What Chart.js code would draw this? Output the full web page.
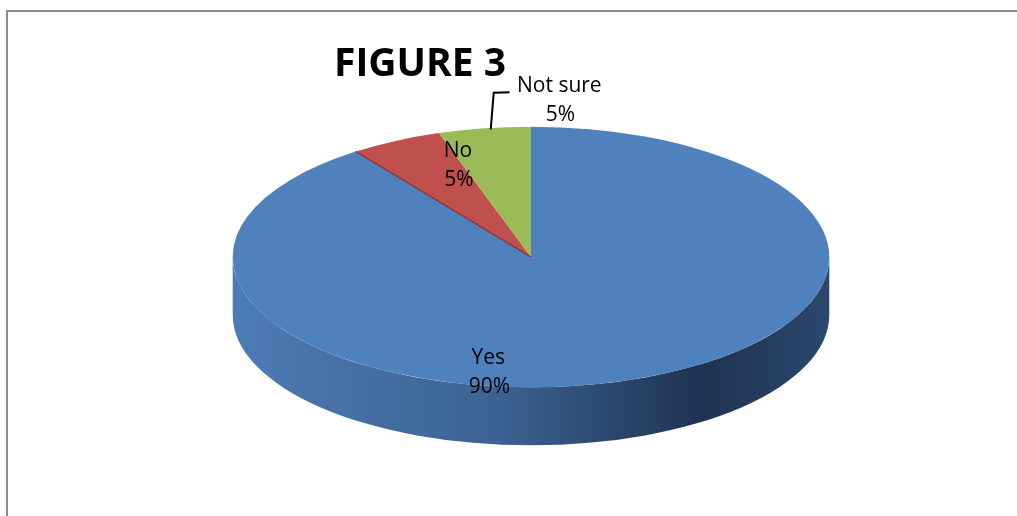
<!DOCTYPE html>
<html lang="en">
  <head>
    <meta charset="UTF-8" />
    <script src="https://cdn.jsdelivr.net/npm/chart.js"></script>
    <title>Figure 3</title>
    <style>
      html, body { margin: 0; padding: 0; background: #fff; }
      .frame {
        position: absolute; left: 0; top: 0; width: 1017px; height: 516px;
      }
      .border {
        position: absolute; left: 6px; top: 10px; right: 0; bottom: 0;
        border-top: 2px solid #8c8c8c; border-left: 2px solid #8c8c8c;
      }
      canvas { position: absolute; left: 0; top: 0; }
    </style>
  </head>
  <body>
    <div class="frame">
      <div class="border"></div>
      <canvas id="myChart" width="1017" height="516"></canvas>
    </div>

    <script>
      // data
      const categorias = ["Yes", "No", "Not sure"];
      const valores = [90, 5, 5];
      const rotulos = ["90%", "5%", "5%"];
      const cores = ["#4f81bd", "#c0504d", "#9bbb59"];

      // how the flat pie is squashed into a tilted 3D disc
      const ESTICA_X = 1.9;
      const ESTICA_Y = 0.83;
      const PROFUNDIDADE = 58;

      function transformar(ctx, arc) {
        ctx.translate(arc.x, arc.y);
        ctx.scale(ESTICA_X, ESTICA_Y);
        ctx.translate(-arc.x, -arc.y);
      }

      const pizza3d = {
        id: "pizza3d",
        beforeDatasetsDraw(chart) {
          const ctx = chart.ctx;
          const arcs = chart.getDatasetMeta(0).data;
          const a0 = arcs[0];
          const cx = a0.x, cy = a0.y, R = a0.outerRadius;
          const D = PROFUNDIDADE / ESTICA_Y;

          ctx.save();
          transformar(ctx, a0);

          // side walls (only the front half shows)
          arcs.forEach(function (arc, i) {
            for (let k = -1; k <= 1; k++) {
              const lo = Math.max(arc.startAngle + 2 * Math.PI * k, 0);
              const hi = Math.min(arc.endAngle + 2 * Math.PI * k, Math.PI);
              if (hi <= lo) continue;
              const g = ctx.createLinearGradient(cx - R, 0, cx + R, 0);
              if (i === 0) {
                g.addColorStop(0, "#4d7bb4");
                g.addColorStop(0.45, "#3b6292");
                g.addColorStop(0.78, "#1f3352");
                g.addColorStop(1, "#2a476d");
              } else {
                g.addColorStop(0, cores[i]);
                g.addColorStop(1, "#333");
              }
              ctx.beginPath();
              ctx.moveTo(cx + R * Math.cos(lo), cy + R * Math.sin(lo));
              ctx.arc(cx, cy, R, lo, hi);
              ctx.lineTo(cx + R * Math.cos(hi), cy + D + R * Math.sin(hi));
              ctx.arc(cx, cy + D, R, hi, lo, true);
              ctx.closePath();
              ctx.fillStyle = g;
              ctx.fill();
            }
          });
          // top face is drawn by chart.js in the same squashed space
        },
        afterDatasetsDraw(chart) {
          const ctx = chart.ctx;
          const arcs = chart.getDatasetMeta(0).data;
          // dark edge between No and Yes
          const no = arcs[1];
          ctx.beginPath();
          ctx.moveTo(no.x, no.y);
          ctx.lineTo(no.x + no.outerRadius * Math.cos(no.startAngle), no.y + no.outerRadius * Math.sin(no.startAngle));
          ctx.lineWidth = 1.2;
          ctx.strokeStyle = "#8a3634";
          ctx.stroke();
          ctx.restore();
        },
        afterDraw(chart) {
          const ctx = chart.ctx;
          const a0 = chart.getDatasetMeta(0).data[0];
          const rx = a0.outerRadius * ESTICA_X;
          const ry = a0.outerRadius * ESTICA_Y;
          const px = (u) => a0.x + u * rx;
          const py = (v) => a0.y + v * ry;

          ctx.save();
          ctx.fillStyle = "#000";
          ctx.textAlign = "center";
          ctx.textBaseline = "middle";

          // title
          ctx.font = "bold 39px 'Open Sans'";
          ctx.fillText("FIGURE 3", 420, 65);

          // labels, placed relative to the disc
          const lugar = [[-0.143, 0.775], [-0.245, -0.81], [0.095, -1.31]];
          ctx.font = "21px 'Open Sans'";
          categorias.forEach(function (c, i) {
            const x = px(lugar[i][0]), y = py(lugar[i][1]);
            ctx.fillText(c, x, y);
            ctx.fillText(rotulos[i], x + 1, y + 29);
          });

          // leader line for Not sure
          ctx.beginPath();
          ctx.moveTo(px(-0.135), py(-0.98));
          ctx.lineTo(px(-0.125), py(-1.26));
          ctx.lineTo(px(-0.072), py(-1.265));
          ctx.lineWidth = 2;
          ctx.strokeStyle = "#000";
          ctx.stroke();
          ctx.restore();
        },
      };

      const data = {
        labels: categorias,
        datasets: [
          {
            data: valores,
            backgroundColor: cores,
            borderWidth: 0,
          },
        ],
      };

      const config = {
        type: "pie",
        data: data,
        options: {
          responsive: false,
          animation: false,
          layout: { padding: { left: 145, right: 100, top: 100, bottom: 102 } },
          plugins: {
            legend: { display: false },
            tooltip: { enabled: false },
          },
        },
        plugins: [pizza3d],
      };

      const myChart = new Chart(document.getElementById("myChart"), config);
    </script>
  </body>
</html>
